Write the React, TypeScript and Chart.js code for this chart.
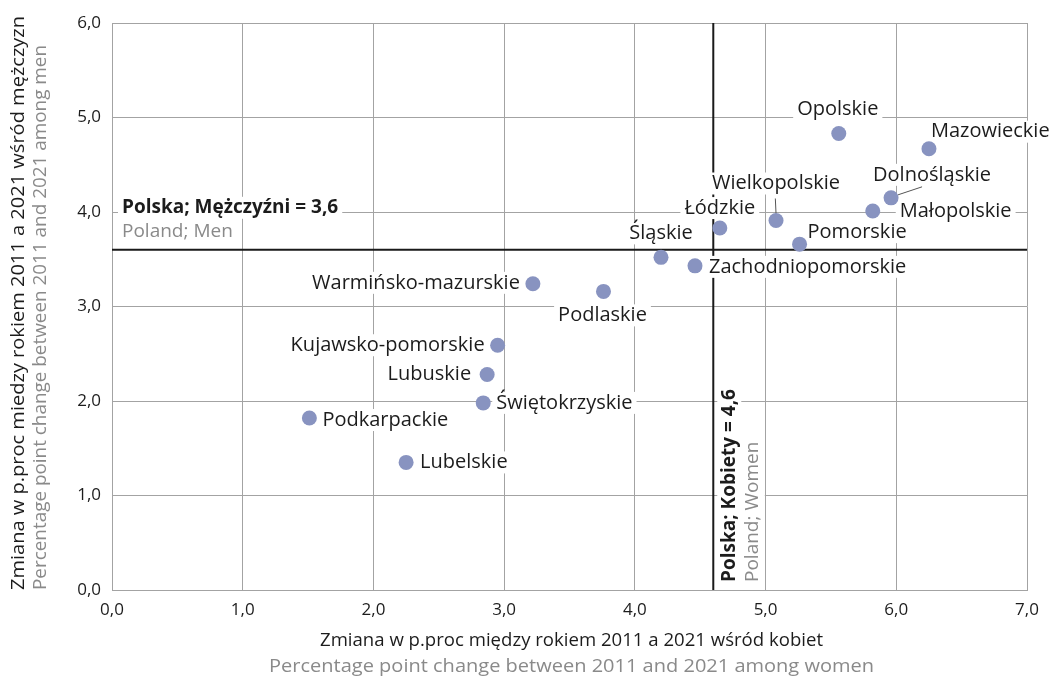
import React, { useEffect, useRef } from "react";
import { Chart, registerables } from "chart.js";

Chart.register(...registerables);

// ---------- DATA ----------
const regions = [
  "Opolskie",
  "Mazowieckie",
  "Dolnośląskie",
  "Małopolskie",
  "Wielkopolskie",
  "Łódzkie",
  "Pomorskie",
  "Śląskie",
  "Zachodniopomorskie",
  "Warmińsko-mazurskie",
  "Podlaskie",
  "Kujawsko-pomorskie",
  "Lubuskie",
  "Świętokrzyskie",
  "Podkarpackie",
  "Lubelskie",
];
const womenChange = [5.56, 6.25, 5.96, 5.82, 5.08, 4.65, 5.26, 4.2, 4.46, 3.22, 3.76, 2.95, 2.87, 2.84, 1.51, 2.25];
const menChange = [4.83, 4.67, 4.15, 4.01, 3.91, 3.83, 3.66, 3.52, 3.43, 3.24, 3.16, 2.59, 2.28, 1.98, 1.82, 1.35];

const polandWomen = 4.6;
const polandMen = 3.6;

const xTickLabels = ["0,0", "1,0", "2,0", "3,0", "4,0", "5,0", "6,0", "7,0"];
const yTickLabels = ["0,0", "1,0", "2,0", "3,0", "4,0", "5,0", "6,0"];

const xTitle = ["Zmiana w p.proc między rokiem 2011 a 2021 wśród kobiet", "Percentage point change between 2011 and 2021 among women"];
const yTitle = ["Zmiana w p.proc miedzy rokiem 2011 a 2021 wśród mężczyzn", "Percentage point change between 2011 and 2021 among men"];

const menRefLabel = ["Polska; Mężczyźni = 3,6", "Poland; Men"];
const womenRefLabel = ["Polska; Kobiety = 4,6", "Poland; Women"];

// ---------- LABEL LAYOUT (style, not data) ----------
type Lay = { dx: number; dy: number; align: CanvasTextAlign; leader?: [number, number, number, number] };
const labelLayout: Lay[] = [
  { dx: -1, dy: -24, align: "center" },
  { dx: 2, dy: -17, align: "left" },
  { dx: -18, dy: -23, align: "left", leader: [7, -3, 31, -11] },
  { dx: 27, dy: 0, align: "left" },
  { dx: 0, dy: -37, align: "center", leader: [-0.7, -22, 0, -7] },
  { dx: 0, dy: -20, align: "center" },
  { dx: 8, dy: -12, align: "left" },
  { dx: 0, dy: -24, align: "center" },
  { dx: 14, dy: 1, align: "left" },
  { dx: -13, dy: -1, align: "right" },
  { dx: -1, dy: 24, align: "center" },
  { dx: -13, dy: 0, align: "right" },
  { dx: -16, dy: 0, align: "right" },
  { dx: 13, dy: 0, align: "left" },
  { dx: 13, dy: 2, align: "left" },
  { dx: 14, dy: 0, align: "left" },
];

const FONT = '"Open Sans", "Noto Sans", sans-serif';
const DARK = "#1c1c1c";
const GRAY = "#8a8a8a";
const GRID = "#a3a3a3";
const POINT = "#8893c0";

function boxedText(
  ctx: CanvasRenderingContext2D,
  text: string,
  x: number,
  y: number,
  align: CanvasTextAlign,
  font: string,
  color: string,
  padX = 4,
  boxH = 22
) {
  ctx.font = font;
  const w = ctx.measureText(text).width;
  const left = align === "left" ? x : align === "right" ? x - w : x - w / 2;
  ctx.fillStyle = "#ffffff";
  ctx.fillRect(left - padX, y - boxH / 2, w + 2 * padX, boxH);
  ctx.fillStyle = color;
  ctx.textAlign = align;
  ctx.textBaseline = "middle";
  ctx.fillText(text, x, y);
}

function fitText(ctx: CanvasRenderingContext2D, text: string, x: number, y: number, target: number, align: "left" | "center") {
  const w = ctx.measureText(text).width;
  const sx = target / w;
  ctx.save();
  ctx.translate(x, y);
  ctx.scale(sx, 1);
  ctx.textAlign = align;
  ctx.textBaseline = "middle";
  ctx.fillText(text, 0, 0);
  ctx.restore();
}

const annotationPlugin = {
  id: "annotations",
  beforeDatasetsDraw(chart: any) {
    const { ctx, chartArea: a, scales } = chart;
    const xs = scales.x;
    const ys = scales.y;
    const px = xs.getPixelForValue(polandWomen);
    const py = ys.getPixelForValue(polandMen);
    ctx.save();
    // reference lines
    ctx.strokeStyle = "#1a1a1a";
    ctx.lineWidth = 2;
    ctx.beginPath();
    ctx.moveTo(px, a.top);
    ctx.lineTo(px, a.bottom);
    ctx.moveTo(a.left, py);
    ctx.lineTo(a.right, py);
    ctx.stroke();

    // horizontal reference label
    boxedText(ctx, menRefLabel[0], a.left + 10, py - 42, "left", `bold 19px ${FONT}`, DARK, 4, 22);
    boxedText(ctx, menRefLabel[1], a.left + 10, py - 18, "left", `19px ${FONT}`, GRAY, 4, 22);

    // vertical reference label
    ctx.save();
    ctx.translate(px, a.bottom - 8);
    ctx.rotate(-Math.PI / 2);
    boxedText(ctx, womenRefLabel[0], 0, 16, "left", `bold 19px ${FONT}`, DARK, 4, 24);
    boxedText(ctx, womenRefLabel[1], 0, 39.5, "left", `19px ${FONT}`, GRAY, 4, 24);
    ctx.restore();

    // region labels
    regions.forEach((name, i) => {
      const x = xs.getPixelForValue(womenChange[i]);
      const y = ys.getPixelForValue(menChange[i]);
      const l = labelLayout[i];
      if (l.leader) {
        ctx.strokeStyle = "#555555";
        ctx.lineWidth = 1;
        ctx.beginPath();
        ctx.moveTo(x + l.leader[0], y + l.leader[1]);
        ctx.lineTo(x + l.leader[2], y + l.leader[3]);
        ctx.stroke();
      }
      boxedText(ctx, name, x + l.dx, y + l.dy, l.align, `20px ${FONT}`, DARK, 4, 22);
    });
    ctx.restore();
  },
  afterDraw(chart: any) {
    const { ctx, chartArea: a } = chart;
    ctx.save();
    // x title
    const cx = (a.left + a.right) / 2 + 2;
    ctx.font = `19px ${FONT}`;
    ctx.fillStyle = DARK;
    fitText(ctx, xTitle[0], cx, 641, 503, "center");
    ctx.fillStyle = GRAY;
    fitText(ctx, xTitle[1], cx, 667, 605, "center");
    // y title
    ctx.save();
    ctx.translate(0, a.bottom);
    ctx.rotate(-Math.PI / 2);
    ctx.fillStyle = DARK;
    fitText(ctx, yTitle[0], 0, 19, 574, "left");
    ctx.fillStyle = GRAY;
    fitText(ctx, yTitle[1], 0, 41, 545, "left");
    ctx.restore();
    ctx.restore();
  },
};

export default function App() {
  const ref = useRef<HTMLCanvasElement | null>(null);
  useEffect(() => {
    let chart: Chart | null = null;
    let cancelled = false;
    const make = () => {
      if (cancelled || !ref.current) return;
      chart = new Chart(ref.current, {
        type: "scatter",
        data: {
          datasets: [
            {
              label: "regions",
              data: regions.map((_, i) => ({ x: womenChange[i], y: menChange[i] })),
              backgroundColor: POINT,
              borderWidth: 0,
              pointRadius: 7.5,
              pointHoverRadius: 7.5,
            },
          ],
        },
        options: {
          responsive: false,
          animation: false,
          devicePixelRatio: 1,
          layout: { padding: { top: 23, right: 28, left: 0, bottom: 0 } },
          plugins: { legend: { display: false }, tooltip: { enabled: false } },
          scales: {
            x: {
              type: "linear",
              min: 0,
              max: 7,
              afterFit: (s: any) => {
                s.height = 91;
              },
              ticks: {
                stepSize: 1,
                padding: 10,
                color: DARK,
                font: { family: FONT, size: 17 },
                callback: (v: any) => xTickLabels[Math.round(Number(v))],
              },
              grid: { color: GRID, drawTicks: false, lineWidth: 1 },
              border: { display: true, color: GRID },
            },
            y: {
              type: "linear",
              min: 0,
              max: 6,
              afterFit: (s: any) => {
                s.width = 112;
              },
              ticks: {
                stepSize: 1,
                padding: 11,
                color: DARK,
                font: { family: FONT, size: 17 },
                callback: (v: any) => yTickLabels[Math.round(Number(v))],
              },
              grid: { color: GRID, drawTicks: false, lineWidth: 1 },
              border: { display: true, color: GRID },
            },
          },
        },
        plugins: [annotationPlugin],
      });
    };
    const fonts = (document as any).fonts;
    if (fonts && fonts.load) {
      Promise.all([fonts.load(`20px ${FONT}`), fonts.load(`bold 19px ${FONT}`)]).then(make, make);
    } else {
      make();
    }
    return () => {
      cancelled = true;
      if (chart) chart.destroy();
    };
  }, []);
  return (
    <div style={{ position: "fixed", left: 0, top: 0, width: 1055, height: 681, background: "#fff" }}>
      <canvas ref={ref} width={1055} height={681} style={{ display: "block" }} />
    </div>
  );
}
